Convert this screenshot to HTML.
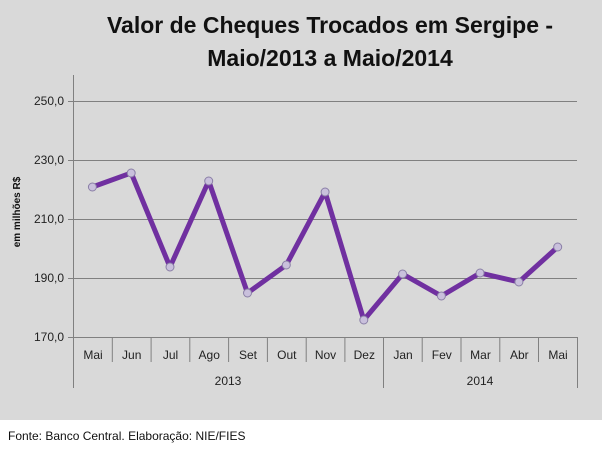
<!DOCTYPE html>
<html><head><style>
body{margin:0;width:602px;height:449px;overflow:hidden;background:#fff}
</style></head><body>
<svg width="602" height="449" xmlns="http://www.w3.org/2000/svg" font-family="Liberation Sans, sans-serif">
<rect x="0" y="0" width="602" height="420" fill="#d9d9d9"/>
<text x="330" y="33" text-anchor="middle" font-size="23" font-weight="bold" fill="#111">Valor de Cheques Trocados em Sergipe -</text>
<text x="330" y="66" text-anchor="middle" font-size="23" font-weight="bold" fill="#111">Maio/2013 a Maio/2014</text>
<g stroke="#808080" stroke-width="1">
<line x1="68" y1="101.5" x2="577" y2="101.5"/>
<line x1="68" y1="160.5" x2="577" y2="160.5"/>
<line x1="68" y1="219.5" x2="577" y2="219.5"/>
<line x1="68" y1="278.5" x2="577" y2="278.5"/>
<line x1="68" y1="337.5" x2="577" y2="337.5"/>
<line x1="73.5" y1="75" x2="73.5" y2="388"/>
<line x1="577.5" y1="337" x2="577.5" y2="388"/>
<line x1="383.5" y1="337" x2="383.5" y2="388"/>
<line x1="112.3" y1="337" x2="112.3" y2="362"/>
<line x1="151.1" y1="337" x2="151.1" y2="362"/>
<line x1="189.8" y1="337" x2="189.8" y2="362"/>
<line x1="228.6" y1="337" x2="228.6" y2="362"/>
<line x1="267.4" y1="337" x2="267.4" y2="362"/>
<line x1="306.2" y1="337" x2="306.2" y2="362"/>
<line x1="344.9" y1="337" x2="344.9" y2="362"/>
<line x1="422.2" y1="337" x2="422.2" y2="362"/>
<line x1="461" y1="337" x2="461" y2="362"/>
<line x1="499.8" y1="337" x2="499.8" y2="362"/>
<line x1="538.5" y1="337" x2="538.5" y2="362"/>
</g>
<g font-size="12" fill="#222" text-anchor="end">
<text x="64" y="105">250,0</text><text x="64" y="164">230,0</text><text x="64" y="223">210,0</text><text x="64" y="282">190,0</text><text x="64" y="341">170,0</text>
</g>
<text transform="translate(20,212) rotate(-90)" text-anchor="middle" font-size="10" font-weight="bold" fill="#111">em milhões R$</text>
<g font-size="12" fill="#222" text-anchor="middle">
<text x="93" y="359">Mai</text><text x="131.7" y="359">Jun</text><text x="170.5" y="359">Jul</text><text x="209.2" y="359">Ago</text><text x="248" y="359">Set</text><text x="286.8" y="359">Out</text><text x="325.5" y="359">Nov</text><text x="364.3" y="359">Dez</text><text x="403" y="359">Jan</text><text x="441.8" y="359">Fev</text><text x="480.5" y="359">Mar</text><text x="519.3" y="359">Abr</text><text x="558" y="359">Mai</text>
<text x="228" y="385">2013</text><text x="480" y="385">2014</text>
</g>
<polyline fill="none" stroke="#7030a0" stroke-width="5" stroke-linejoin="round" points="92.4,187 131.2,173 170,267 208.7,181 247.5,293 286.3,265 325.1,192 363.8,320 402.6,274 441.4,296 480.1,273 518.9,282 557.7,247"/>
<g fill="#c9c0dc" stroke="#8a7fa6" stroke-width="1">
<circle cx="92.4" cy="187" r="4"/><circle cx="131.2" cy="173" r="4"/><circle cx="170" cy="267" r="4"/><circle cx="208.7" cy="181" r="4"/><circle cx="247.5" cy="293" r="4"/><circle cx="286.3" cy="265" r="4"/><circle cx="325.1" cy="192" r="4"/><circle cx="363.8" cy="320" r="4"/><circle cx="402.6" cy="274" r="4"/><circle cx="441.4" cy="296" r="4"/><circle cx="480.1" cy="273" r="4"/><circle cx="518.9" cy="282" r="4"/><circle cx="557.7" cy="247" r="4"/>
</g>
<text x="8" y="440" font-size="12" fill="#111">Fonte: Banco Central. Elaboração: NIE/FIES</text>
</svg>
</body></html>
